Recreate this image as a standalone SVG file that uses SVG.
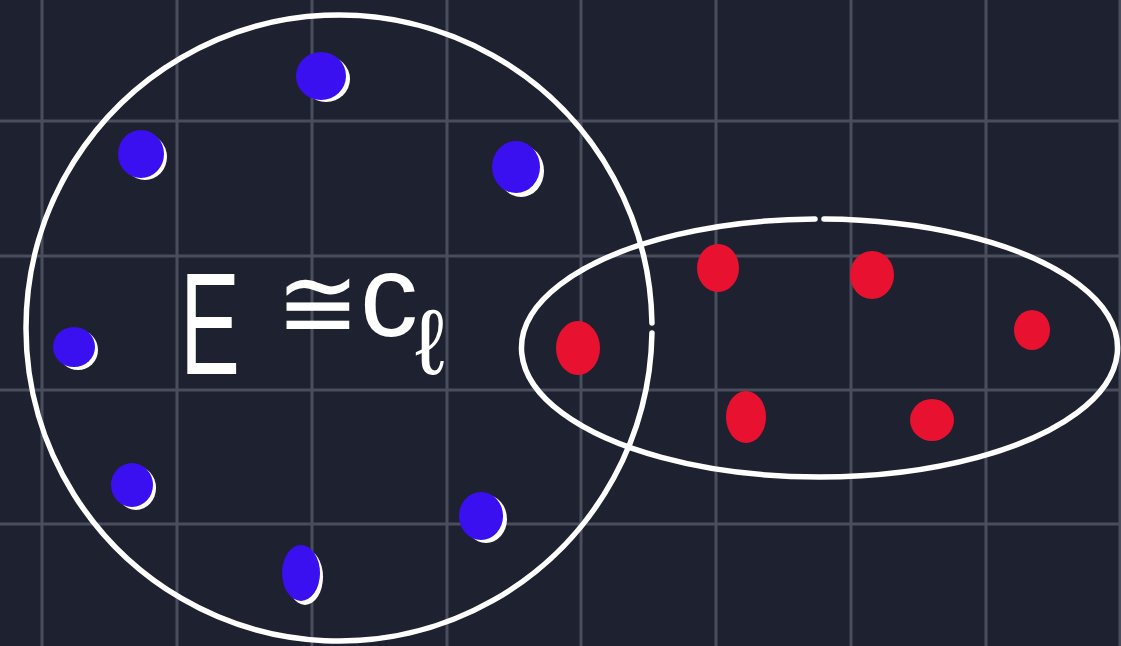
<svg xmlns="http://www.w3.org/2000/svg" width="1121" height="646" viewBox="0 0 1121 646">
<style>
.grid{stroke:#4a4e5c;stroke-width:3}
.outline{fill:none;stroke:#ffffff;stroke-width:5.5;stroke-linecap:round}
.blue{fill:#3a0ff0}
.red{fill:#e8112f}
.hl{fill:#ffffff}
.hand{fill:#ffffff;font-family:"Liberation Sans",Arial,sans-serif}
</style>
<rect width="1121" height="646" fill="#1e2230"/>
<g id="grid">
<line class="grid" x1="42" y1="0" x2="42" y2="646"/>
<line class="grid" x1="177" y1="0" x2="177" y2="646"/>
<line class="grid" x1="312" y1="0" x2="312" y2="646"/>
<line class="grid" x1="447" y1="0" x2="447" y2="646"/>
<line class="grid" x1="581" y1="0" x2="581" y2="646"/>
<line class="grid" x1="716" y1="0" x2="716" y2="646"/>
<line class="grid" x1="851" y1="0" x2="851" y2="646"/>
<line class="grid" x1="986" y1="0" x2="986" y2="646"/>
<line class="grid" x1="1120" y1="0" x2="1120" y2="646"/>
<line class="grid" x1="0" y1="121" x2="1121" y2="121"/>
<line class="grid" x1="0" y1="256" x2="1121" y2="256"/>
<line class="grid" x1="0" y1="390" x2="1121" y2="390"/>
<line class="grid" x1="0" y1="524" x2="1121" y2="524"/>
</g>
<g id="circle-set">
<path class="outline" d="M 651.96 323 A 313 313 0 1 0 651.96 333"/>
</g>
<g id="ellipse-set">
<path class="outline" d="M 815 219 A 298 129 0 1 0 824 219"/>
</g>
<g id="label">
<text class="hand" x="180" y="374" font-size="145" transform="translate(180 0) scale(0.62 1) translate(-180 0)">E</text>
<text class="hand" x="276" y="338" font-size="100">≅</text>
<text class="hand" x="360" y="336" font-size="116">c</text>
<text class="hand" x="415" y="374" font-size="92">ℓ</text>
</g>
<g id="blue-dots">
<ellipse class="hl" cx="326" cy="79" rx="24" ry="23"/><ellipse class="blue" cx="321" cy="76" rx="25" ry="24"/>
<ellipse class="hl" cx="145" cy="157" rx="22" ry="23"/><ellipse class="blue" cx="141" cy="154" rx="23" ry="24"/>
<ellipse class="hl" cx="521" cy="171" rx="23" ry="26"/><ellipse class="blue" cx="516" cy="167" rx="24" ry="26"/>
<ellipse class="hl" cx="78" cy="350" rx="20" ry="20"/><ellipse class="blue" cx="74" cy="347" rx="21" ry="20"/>
<ellipse class="hl" cx="136" cy="488" rx="20" ry="22"/><ellipse class="blue" cx="132" cy="485" rx="21" ry="22"/>
<ellipse class="hl" cx="486" cy="519" rx="21" ry="24"/><ellipse class="blue" cx="481" cy="516" rx="22" ry="24"/>
<ellipse class="hl" cx="305" cy="577" rx="18" ry="28"/><ellipse class="blue" cx="301" cy="573" rx="19" ry="28"/>
</g>
<g id="red-dots">
<ellipse class="red" cx="578" cy="348" rx="22" ry="27"/>
<ellipse class="red" cx="718" cy="268" rx="21" ry="24"/>
<ellipse class="red" cx="872" cy="275" rx="22" ry="24"/>
<ellipse class="red" cx="1032" cy="330" rx="18" ry="20"/>
<ellipse class="red" cx="746" cy="417" rx="20" ry="26"/>
<ellipse class="red" cx="932" cy="420" rx="22" ry="21"/>
</g>
</svg>
